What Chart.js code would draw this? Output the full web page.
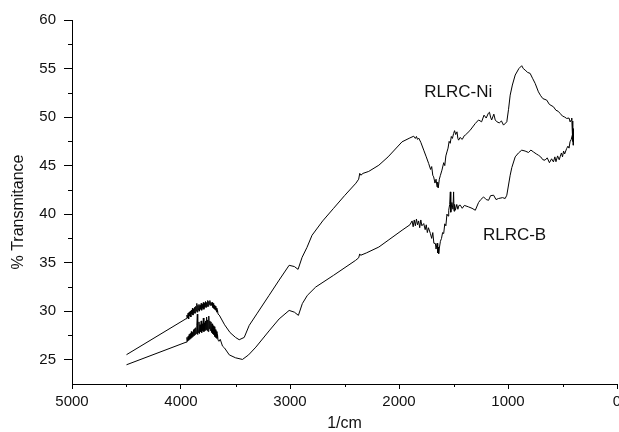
<!DOCTYPE html>
<html>
<head>
<meta charset="utf-8">
<script src="https://cdn.jsdelivr.net/npm/chart.js@4.4.0/dist/chart.umd.min.js"></script>
<style>
  html, body { margin: 0; padding: 0; background: #fff; overflow: hidden; }
  #wrap { width: 619px; height: 432px; overflow: hidden; }
</style>
</head>
<body>
<div id="wrap"><canvas id="ftirChart" width="640" height="432"></canvas></div>
<script>
// wavenumber (1/cm) and % transmittance
const niWavenumber = [4500, 3953, 3945, 3940, 3935, 3930, 3925, 3920, 3915, 3910, 3905, 3900, 3895, 3890, 3885, 3880, 3875, 3870, 3865, 3860, 3855, 3850, 3845, 3840, 3835, 3830, 3825, 3820, 3815, 3810, 3805, 3800, 3795, 3790, 3785, 3780, 3775, 3770, 3765, 3760, 3755, 3750, 3745, 3740, 3735, 3730, 3725, 3720, 3715, 3710, 3705, 3700, 3695, 3690, 3685, 3680, 3675, 3670, 3665, 3660, 3649, 3600, 3550, 3500, 3466, 3420, 3374, 3300, 3192, 3100, 3008, 2960, 2926, 2889, 2844, 2798, 2700, 2600, 2500, 2395, 2370, 2360, 2350, 2330, 2278, 2185, 2100, 1972, 1900, 1865, 1850, 1840, 1830, 1819, 1800, 1773, 1750, 1728, 1710, 1700, 1690, 1682, 1670, 1660, 1651, 1645, 1640, 1630, 1620, 1606, 1590, 1580, 1570, 1560, 1550, 1540, 1530, 1520, 1510, 1499, 1490, 1480, 1468, 1460, 1453, 1440, 1420, 1400, 1392, 1350, 1300, 1270, 1242, 1220, 1200, 1180, 1170, 1160, 1150, 1130, 1117, 1100, 1080, 1060, 1041, 1011, 995, 980, 960, 934, 900, 874, 860, 843, 820, 797, 775, 751, 721, 700, 680, 645, 620, 583, 560, 540, 522, 500, 480, 462, 440, 430, 422, 415, 410, 407, 405, 403, 401];
const niTransmittance = [25.52, 29.23, 29.6, 29.3, 29.8, 29.2, 29.9, 29.5, 30.0, 29.4, 30.1, 29.7, 30.3, 29.6, 30.2, 29.8, 30.4, 29.8, 30.5, 30.0, 30.8, 29.9, 30.6, 30.1, 30.7, 30.0, 30.6, 30.2, 30.8, 30.1, 30.7, 30.3, 30.9, 30.2, 30.8, 30.4, 31.0, 30.4, 30.9, 30.5, 31.1, 30.5, 31.0, 30.7, 31.1, 30.6, 30.9, 30.6, 30.9, 30.4, 30.8, 30.3, 30.6, 30.2, 30.5, 30.1, 30.3, 29.9, 30.1, 29.7, 29.6, 28.6, 27.8, 27.3, 27.06, 27.3, 28.54, 29.8, 31.63, 33.2, 34.73, 34.6, 34.31, 35.55, 36.58, 37.82, 39.3, 40.6, 41.9, 43.19, 43.6, 44.2, 44.01, 44.2, 44.4, 45.04, 45.9, 47.45, 47.85, 48.03, 47.8, 48.0, 47.7, 47.83, 47.4, 46.59, 45.9, 45.22, 44.6, 44.9, 44.0, 43.84, 43.2, 43.6, 42.8, 43.3, 42.7, 43.6, 44.0, 44.53, 45.3, 45.0, 46.0, 46.41, 46.8, 47.5, 47.3, 48.0, 47.8, 48.31, 48.6, 48.2, 48.48, 47.8, 47.62, 47.9, 47.7, 48.1, 48.14, 48.6, 49.34, 49.7, 49.51, 50.2, 49.9, 50.4, 50.5, 50.0, 49.7, 50.3, 49.7, 49.5, 49.4, 49.6, 49.17, 49.51, 50.8, 52.26, 53.3, 54.33, 55.0, 55.29, 55.0, 54.84, 54.6, 54.5, 54.0, 53.47, 52.6, 52.2, 51.9, 51.75, 51.3, 51.06, 50.7, 50.6, 50.38, 50.1, 50.0, 49.86, 49.9, 49.5, 49.68, 49.9, 48.5, 49.6, 47.5, 48.8, 47.1];

const bWavenumber = [4500, 3953, 3945, 3940, 3935, 3930, 3925, 3920, 3915, 3910, 3905, 3900, 3895, 3890, 3885, 3880, 3875, 3870, 3865, 3860, 3855, 3850, 3848, 3845, 3840, 3835, 3830, 3825, 3820, 3815, 3810, 3805, 3800, 3795, 3790, 3785, 3780, 3775, 3770, 3765, 3760, 3755, 3750, 3745, 3740, 3735, 3730, 3725, 3720, 3715, 3710, 3705, 3700, 3695, 3690, 3685, 3680, 3675, 3670, 3665, 3660, 3650, 3640, 3619, 3600, 3557, 3500, 3436, 3380, 3313, 3192, 3100, 3008, 2960, 2923, 2887, 2841, 2764, 2600, 2398, 2370, 2360, 2352, 2300, 2185, 2100, 1972, 1900, 1880, 1870, 1860, 1850, 1840, 1830, 1820, 1810, 1800, 1790, 1773, 1760, 1750, 1740, 1730, 1712, 1700, 1690, 1680, 1666, 1660, 1650, 1645, 1640, 1636, 1630, 1620, 1610, 1600, 1590, 1580, 1570, 1560, 1550, 1544, 1535, 1529, 1525, 1515, 1505, 1499, 1495, 1490, 1483, 1470, 1460, 1450, 1437, 1420, 1400, 1361, 1330, 1300, 1270, 1250, 1224, 1200, 1178, 1160, 1132, 1110, 1087, 1050, 1026, 1011, 980, 965, 934, 904, 874, 843, 812, 790, 767, 740, 721, 700, 680, 660, 640, 620, 600, 583, 570, 560, 545, 530, 522, 510, 500, 490, 480, 462, 450, 440, 431, 420, 410, 405];
const bTransmittance = [24.48, 26.81, 27.3, 26.9, 27.4, 27.0, 27.6, 27.1, 27.7, 27.2, 27.9, 27.3, 27.8, 27.4, 28.1, 27.5, 28.2, 27.6, 28.3, 27.7, 28.5, 29.7, 27.6, 28.4, 27.8, 28.9, 27.7, 28.6, 27.9, 29.0, 27.8, 28.7, 28.0, 29.3, 27.9, 28.8, 28.0, 29.0, 28.1, 29.4, 28.0, 29.1, 27.9, 29.5, 28.2, 29.0, 28.0, 28.9, 27.8, 28.7, 27.7, 28.5, 27.6, 28.4, 27.4, 28.1, 27.3, 27.9, 27.2, 27.6, 27.0, 26.9, 27.1, 26.4, 26.2, 25.5, 25.2, 25.03, 25.5, 26.3, 27.97, 29.2, 30.08, 29.9, 29.57, 30.78, 31.63, 32.49, 33.7, 35.24, 35.5, 35.9, 35.76, 36.0, 36.61, 37.3, 38.34, 38.9, 39.3, 38.7, 39.4, 38.8, 39.5, 38.9, 39.3, 38.6, 39.4, 38.8, 39.03, 38.4, 38.9, 38.1, 38.6, 38.0, 37.5, 38.1, 37.0, 36.97, 36.4, 37.0, 36.0, 36.6, 35.93, 36.5, 37.2, 37.5, 38.1, 38.0, 39.0, 38.8, 40.0, 39.8, 40.4, 41.0, 42.29, 40.2, 41.2, 40.5, 42.29, 40.3, 41.0, 40.4, 41.0, 40.5, 40.9, 40.92, 40.6, 40.9, 40.74, 40.6, 40.4, 41.2, 41.5, 41.77, 41.5, 41.43, 41.9, 41.95, 41.5, 41.61, 41.7, 41.61, 41.95, 44.01, 44.8, 45.9, 46.3, 46.59, 46.5, 46.35, 46.6, 46.41, 46.2, 46.07, 45.9, 45.6, 45.56, 45.8, 45.3, 45.7, 45.38, 45.9, 45.4, 46.0, 45.6, 45.9, 46.3, 45.9, 46.5, 46.2, 46.76, 47.0, 46.8, 47.45, 47.7, 48.14, 48.8];

const xTicks = [0, 1000, 2000, 3000, 4000, 5000];
const xMinorTicks = [500, 1500, 2500, 3500, 4500];
const yTicks = [25, 30, 35, 40, 45, 50, 55, 60];
const yMinorTicks = [27.5, 32.5, 37.5, 42.5, 47.5, 52.5, 57.5];

const curveLabels = [
  { text: "RLRC-Ni", wn: 1457, t: 52.6 },
  { text: "RLRC-B", wn: 940, t: 37.8 }
];

const FONT = "'Liberation Sans', Arial, sans-serif";

function toPoints(xs, ys) {
  return xs.map((x, i) => ({ x: x, y: ys[i] }));
}

// minor ticks, axis titles and curve names
const extrasPlugin = {
  id: "extras",
  afterDraw(chart) {
    const ctx = chart.ctx;
    const xs = chart.scales.x;
    const ys = chart.scales.y;
    const area = chart.chartArea;
    ctx.save();
    ctx.strokeStyle = "#000";
    ctx.lineWidth = 1;
    ctx.beginPath();
    yMinorTicks.forEach(v => {
      const py = Math.round(ys.getPixelForValue(v)) + 0.5;
      ctx.moveTo(area.left - 4, py);
      ctx.lineTo(area.left, py);
    });
    xMinorTicks.forEach(v => {
      const px = Math.round(xs.getPixelForValue(v)) + 0.5;
      ctx.moveTo(px, area.bottom);
      ctx.lineTo(px, area.bottom + 3);
    });
    ctx.stroke();

    ctx.fillStyle = "#111";
    ctx.textAlign = "center";
    ctx.textBaseline = "middle";
    ctx.font = "17px " + FONT;
    curveLabels.forEach(l => {
      ctx.fillText(l.text, xs.getPixelForValue(l.wn), ys.getPixelForValue(l.t));
    });

    ctx.font = "16px " + FONT;
    ctx.fillText("1/cm", (area.left + area.right) / 2, 424);

    ctx.translate(19, 212);
    ctx.rotate(-Math.PI / 2);
    ctx.fillText("% Transmitance", 0, 0);
    ctx.restore();
  }
};

const ctx = document.getElementById("ftirChart").getContext("2d");
new Chart(ctx, {
  type: "scatter",
  data: {
    datasets: [
      {
        label: "RLRC-Ni",
        data: toPoints(niWavenumber, niTransmittance),
        showLine: true,
        borderColor: "#000",
        borderWidth: 1,
        pointRadius: 0,
        tension: 0
      },
      {
        label: "RLRC-B",
        data: toPoints(bWavenumber, bTransmittance),
        showLine: true,
        borderColor: "#000",
        borderWidth: 1,
        pointRadius: 0,
        tension: 0
      }
    ]
  },
  options: {
    responsive: false,
    animation: false,
    devicePixelRatio: 1,
    layout: { padding: { top: 20, right: 23, left: 0, bottom: 0 } },
    plugins: {
      legend: { display: false },
      tooltip: { enabled: false }
    },
    scales: {
      x: {
        type: "linear",
        reverse: true,
        min: 0,
        max: 5000,
        afterBuildTicks: axis => { axis.ticks = xTicks.map(v => ({ value: v })); },
        afterFit: axis => { axis.height = 48; },
        grid: { drawOnChartArea: false, tickLength: 5, tickColor: "#000" },
        border: { color: "#000", width: 1 },
        ticks: { color: "#111", font: { family: FONT, size: 15 }, padding: 4, maxRotation: 0, callback: v => String(v) }
      },
      y: {
        min: 22.5,
        max: 60,
        afterBuildTicks: axis => { axis.ticks = yTicks.map(v => ({ value: v })); },
        afterFit: axis => { axis.width = 72; },
        grid: { drawOnChartArea: false, tickLength: 8, tickColor: "#000" },
        border: { color: "#000", width: 1 },
        ticks: { color: "#111", font: { family: FONT, size: 15 }, padding: 8, callback: v => String(v) }
      }
    }
  },
  plugins: [extrasPlugin]
});
</script>
</body>
</html>
